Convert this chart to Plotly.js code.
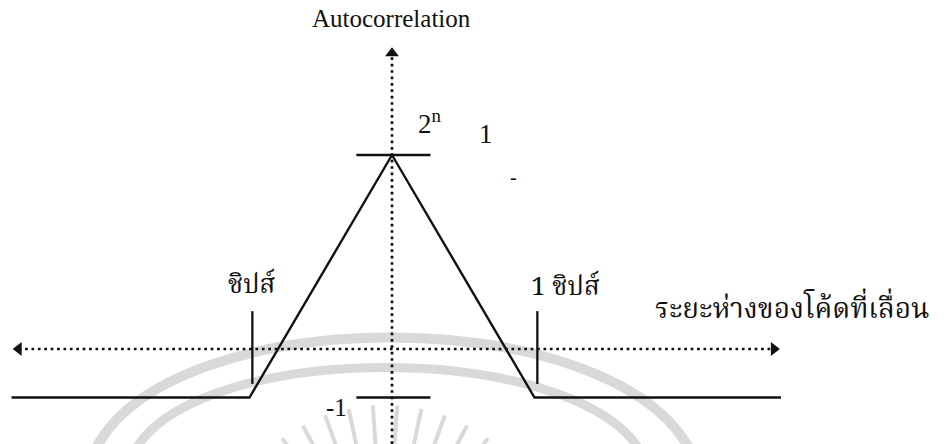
<!DOCTYPE html>
<html>
<head>
<meta charset="utf-8">
<script src="https://cdn.plot.ly/plotly-3.0.1.min.js"></script>
<style>
  html, body { margin: 0; padding: 0; background: #fff; }
  #chart { width: 947px; height: 444px; }
</style>
</head>
<body>
<div id="chart"></div>
<script>
// Code shift (in chips) and the autocorrelation of the PN sequence
const shiftChips = [-2.67, -1, 0, 1, 2.73];
const autocorr   = [-1, -1, 4, -1, -1];

// Levels marked on the vertical axis
const levelMarks  = [4, -1];
// Chip boundaries marked on the horizontal axis
const chipMarks   = [-0.98, 1.02];
const chipLabels  = ['ชิปส์', '1 ชิปส์'];

const xTitle = 'ระยะห่างของโค้ดที่เลื่อน';
const yTitle = 'Autocorrelation';

const INK = '#111';
const SERIF = '"Liberation Serif", "Times New Roman", serif';
const THAI = '"Noto Serif Thai", "Noto Sans Thai", "Loma", "Garuda", "Norasi", "Tlwg Typo", serif';

const xEnds = [-2.62, 2.68];   // dotted shift axis
const yEnds = [-1.96, 6.10];   // dotted autocorrelation axis
const dotted = { color: INK, width: 2.7, dash: '2.7px,3.7px' };

const traces = [];

// dotted axes
traces.push({ x: xEnds, y: [0, 0], mode: 'lines', line: dotted, hoverinfo: 'skip' });
traces.push({ x: [0, 0], y: yEnds, mode: 'lines', line: dotted, hoverinfo: 'skip' });

// arrow heads at the axis ends
traces.push({
  x: [xEnds[0], xEnds[1], 0], y: [0, 0, yEnds[1]],
  mode: 'markers',
  marker: { symbol: ['triangle-left', 'triangle-right', 'triangle-up'], size: 12, color: INK, line: { width: 0 } },
  hoverinfo: 'skip'
});

// level bars at the peak and at -1
levelMarks.forEach(v => traces.push({
  x: [-0.25, 0.27], y: [v, v], mode: 'lines', line: { color: INK, width: 2.3 }, hoverinfo: 'skip'
}));

// chip boundary ticks
chipMarks.forEach(c => traces.push({
  x: [c, c], y: [-0.72, 0.78], mode: 'lines', line: { color: INK, width: 2.3 }, hoverinfo: 'skip'
}));

// triangular autocorrelation curve
traces.push({ x: shiftChips, y: autocorr, mode: 'lines', line: { color: INK, width: 2.4 }, hoverinfo: 'skip' });

// faint seal in the background (drawn on a pixel-scaled overlay)
const GREY = '#d9d9d9';
const shapes = [
  { type: 'path', xref: 'x2', yref: 'y2', layer: 'below',
    path: 'M 95 450 C 170 300, 610 300, 690 450', line: { color: GREY, width: 10 } },
  { type: 'path', xref: 'x2', yref: 'y2', layer: 'below',
    path: 'M 135 450 C 200 340, 570 340, 640 450', line: { color: GREY, width: 9 } }
];
const rayC = [385, 580];
for (let a = -150; a <= -30; a += 8) {
  const r = a * Math.PI / 180;
  shapes.push({ type: 'line', xref: 'x2', yref: 'y2', layer: 'below',
    x0: rayC[0] + 130 * Math.cos(r), y0: rayC[1] + 130 * Math.sin(r),
    x1: rayC[0] + 175 * Math.cos(r), y1: rayC[1] + 175 * Math.sin(r),
    line: { color: GREY, width: 4 } });
}

const annotations = [
  { x: 0, y: 6.82, text: yTitle, font: { family: SERIF, size: 25, color: INK } },
  { x: 0.267, y: 4.68, text: '2<sup>n</sup>', font: { family: SERIF, size: 27, color: INK } },
  { x: 0.66, y: 4.43, text: '1', font: { family: SERIF, size: 27, color: INK } },
  { x: 0.85, y: 3.55, text: '-', font: { family: SERIF, size: 20, color: INK } },
  { x: -0.386, y: -1.2, text: '-1', font: { family: SERIF, size: 25, color: INK } },
  { x: chipMarks[0], y: 1.30, text: chipLabels[0], font: { family: THAI, size: 26, color: INK } },
  { x: 1.22, y: 1.26, text: chipLabels[1], font: { family: THAI, size: 26, color: INK } },
  { x: 2.81, y: 0.80, text: xTitle, font: { family: THAI, size: 28, color: INK } }
].map(a => Object.assign({ xref: 'x', yref: 'y', showarrow: false, xanchor: 'center', yanchor: 'middle' }, a));

const layout = {
  width: 947, height: 444,
  margin: { l: 0, r: 0, t: 0, b: 0 },
  paper_bgcolor: '#fff', plot_bgcolor: '#fff',
  showlegend: false,
  xaxis: { range: [-2.751, 3.895], visible: false, fixedrange: true },
  yaxis: { range: [-1.959, 7.196], visible: false, fixedrange: true },
  xaxis2: { range: [0, 947], visible: false, overlaying: 'x', fixedrange: true },
  yaxis2: { range: [444, 0], visible: false, overlaying: 'y', fixedrange: true },
  shapes: shapes,
  annotations: annotations
};

Plotly.newPlot('chart', traces, layout, { displayModeBar: false, staticPlot: true });
</script>
</body>
</html>
